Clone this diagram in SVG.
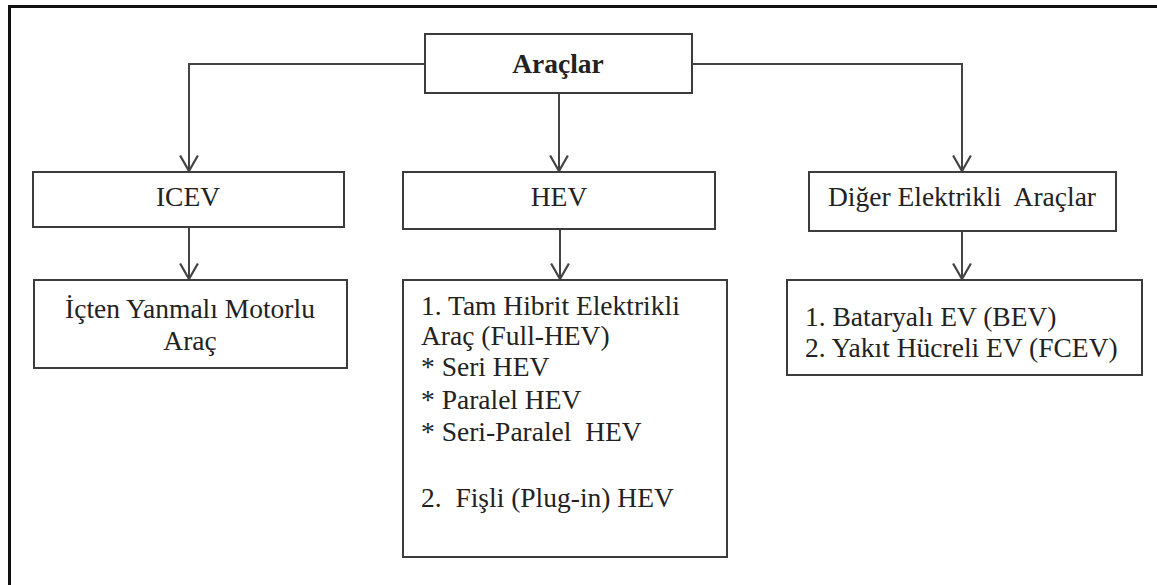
<svg xmlns="http://www.w3.org/2000/svg" width="1157" height="585" viewBox="0 0 1157 585">
<defs>
<style>
.box{fill:#fff;stroke:#3c3c3c;stroke-width:2}
.t{font-family:"Liberation Serif","Times New Roman",serif;font-size:27.5px;fill:#222}
.c{text-anchor:middle}
.b{font-weight:bold}
.con{fill:none;stroke:#444;stroke-width:2}
</style>
<marker id="arr" markerUnits="userSpaceOnUse" markerWidth="20" markerHeight="20" refX="15" refY="9" orient="auto" viewBox="0 0 18 18">
<path d="M1,1 L15,9 L1,17" fill="none" stroke="#444" stroke-width="2"/>
</marker>
</defs>
<rect x="0" y="0" width="1157" height="585" fill="#fff"/>
<path d="M9.5,600 L9.5,6.5 L1170,6.5" fill="none" stroke="#111" stroke-width="3"/>
<g id="connectors">
<path class="con" d="M425,64 L189,64 L189,171" marker-end="url(#arr)"/>
<path class="con" d="M692,64 L962,64 L962,171" marker-end="url(#arr)"/>
<path class="con" d="M559,93 L559,171" marker-end="url(#arr)"/>
<path class="con" d="M189,227 L189,279" marker-end="url(#arr)"/>
<path class="con" d="M560,229 L560,279" marker-end="url(#arr)"/>
<path class="con" d="M962,231 L962,279" marker-end="url(#arr)"/>
</g>
<g id="aracl">
<rect class="box" x="425" y="34" width="267" height="59"/>
<text class="t c b" x="558" y="73">Araçlar</text>
</g>
<g id="icev">
<rect class="box" x="33" y="172" width="311" height="55"/>
<text class="t c" x="188" y="206">ICEV</text>
</g>
<g id="hev">
<rect class="box" x="403" y="172" width="312" height="57"/>
<text class="t c" x="559" y="206">HEV</text>
</g>
<g id="diger">
<rect class="box" x="809" y="172" width="307" height="59"/>
<text class="t c" x="962" y="206" xml:space="preserve">Diğer Elektrikli  Araçlar</text>
</g>
<g id="icten">
<rect class="box" x="34" y="280" width="313" height="88"/>
<text class="t c" x="190" y="318">İçten Yanmalı Motorlu</text>
<text class="t c" x="190" y="350">Araç</text>
</g>
<g id="hevlist">
<rect class="box" x="403" y="280" width="324" height="277"/>
<text class="t" x="421" y="315">1. Tam Hibrit Elektrikli</text>
<text class="t" x="421" y="345">Araç (Full-HEV)</text>
<text class="t" x="421" y="376">* Seri HEV</text>
<text class="t" x="421" y="409">* Paralel HEV</text>
<text class="t" x="421" y="441" xml:space="preserve">* Seri-Paralel  HEV</text>
<text class="t" x="421" y="507" xml:space="preserve">2.  Fişli (Plug-in) HEV</text>
</g>
<g id="evlist">
<rect class="box" x="787" y="280" width="355" height="95"/>
<text class="t" x="805" y="326">1. Bataryalı EV (BEV)</text>
<text class="t" x="805" y="357">2. Yakıt Hücreli EV (FCEV)</text>
</g>
</svg>
